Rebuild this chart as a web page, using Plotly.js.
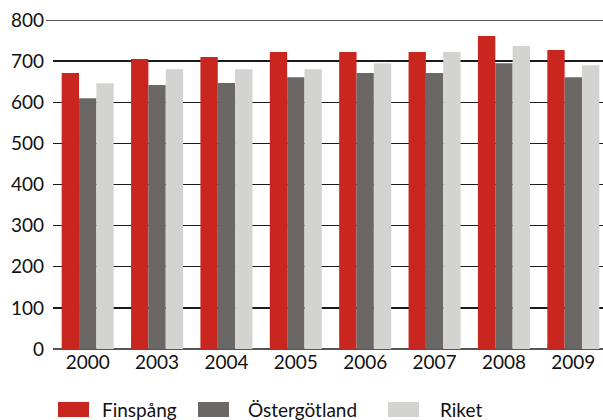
<!DOCTYPE html>
<html>
<head>
<meta charset="utf-8">
<script src="https://cdn.plot.ly/plotly-3.0.1.min.js"></script>
<style>
  html, body { margin: 0; padding: 0; overflow: hidden; background: #fff; }
  #chart { width: 610px; height: 420px; }
</style>
</head>
<body>
<div id="chart"></div>
<script>
// ---- data ----
const years = ["2000", "2003", "2004", "2005", "2006", "2007", "2008", "2009"];
const seriesNames = ["Finspång", "Östergötland", "Riket"];
const finspang = [671, 705, 710, 722, 722, 722, 761, 727];
const ostergotland = [610, 642, 647, 661, 671, 671, 695, 661];
const riket = [646, 680, 680, 680, 695, 722, 737, 690];
const yTicks = [0, 100, 200, 300, 400, 500, 600, 700, 800];

// ---- styles ----
const colors = ["#c9261f", "#6b6764", "#d3d3d1"];
const fontFamily = "Lato, 'Open Sans', sans-serif";
const values = [finspang, ostergotland, riket];

const traces = values.map((v, i) => ({
  type: "bar",
  name: seriesNames[i],
  x: years,
  y: v,
  marker: { color: colors[i], line: { width: 0 } },
  hoverinfo: "skip"
}));

// custom legend (wide swatches), positioned in paper coords
const plotLeft = 53, plotWidth = 555, plotBottom = 349, plotHeight = 329;
const px = p => (p - plotLeft) / plotWidth;
const py = p => (plotBottom - p) / plotHeight;
const legendSwatchX = [58, 198, 388];
const legendTextX = [100, 246, 438];
const shapes = [];
const annotations = [];
seriesNames.forEach((name, i) => {
  shapes.push({
    type: "rect", xref: "paper", yref: "paper",
    x0: px(legendSwatchX[i]), x1: px(legendSwatchX[i] + 31),
    y0: py(417), y1: py(402),
    fillcolor: colors[i], line: { width: 0 }
  });
  annotations.push({
    xref: "paper", yref: "paper",
    x: px(legendTextX[i]), y: py(409),
    xanchor: "left", yanchor: "middle",
    text: name, showarrow: false,
    font: { family: fontFamily, size: 19, color: "#111" }
  });
});

const layout = {
  width: 610, height: 420,
  margin: { l: 53, r: 2, t: 20, b: 71 },
  paper_bgcolor: "#fff", plot_bgcolor: "#fff",
  barmode: "group",
  bargap: 0.25, bargroupgap: 0,
  showlegend: false,
  font: { family: fontFamily, size: 19, color: "#111" },
  xaxis: {
    type: "category",
    showgrid: false, zeroline: false, showline: false,
    ticks: "", tickfont: { family: fontFamily, size: 19, color: "#111" }
  },
  yaxis: {
    range: [0, 800],
    tickvals: yTicks,
    ticktext: yTicks.map(String),
    showgrid: true, gridcolor: "#1a1a1a", gridwidth: 1.3,
    zeroline: true, zerolinecolor: "#555", zerolinewidth: 2,
    showline: false, ticks: "",
    ticklabelstandoff: 8,
    tickfont: { family: fontFamily, size: 19, color: "#111" }
  },
  shapes: shapes.concat([{
    type: "line", xref: "paper", yref: "y",
    x0: px(46), x1: 1, y0: 800, y1: 800,
    line: { color: "#555", width: 2 }
  }]),
  annotations: annotations
};

Plotly.newPlot("chart", traces, layout, { staticPlot: true, displayModeBar: false });
</script>
</body>
</html>
